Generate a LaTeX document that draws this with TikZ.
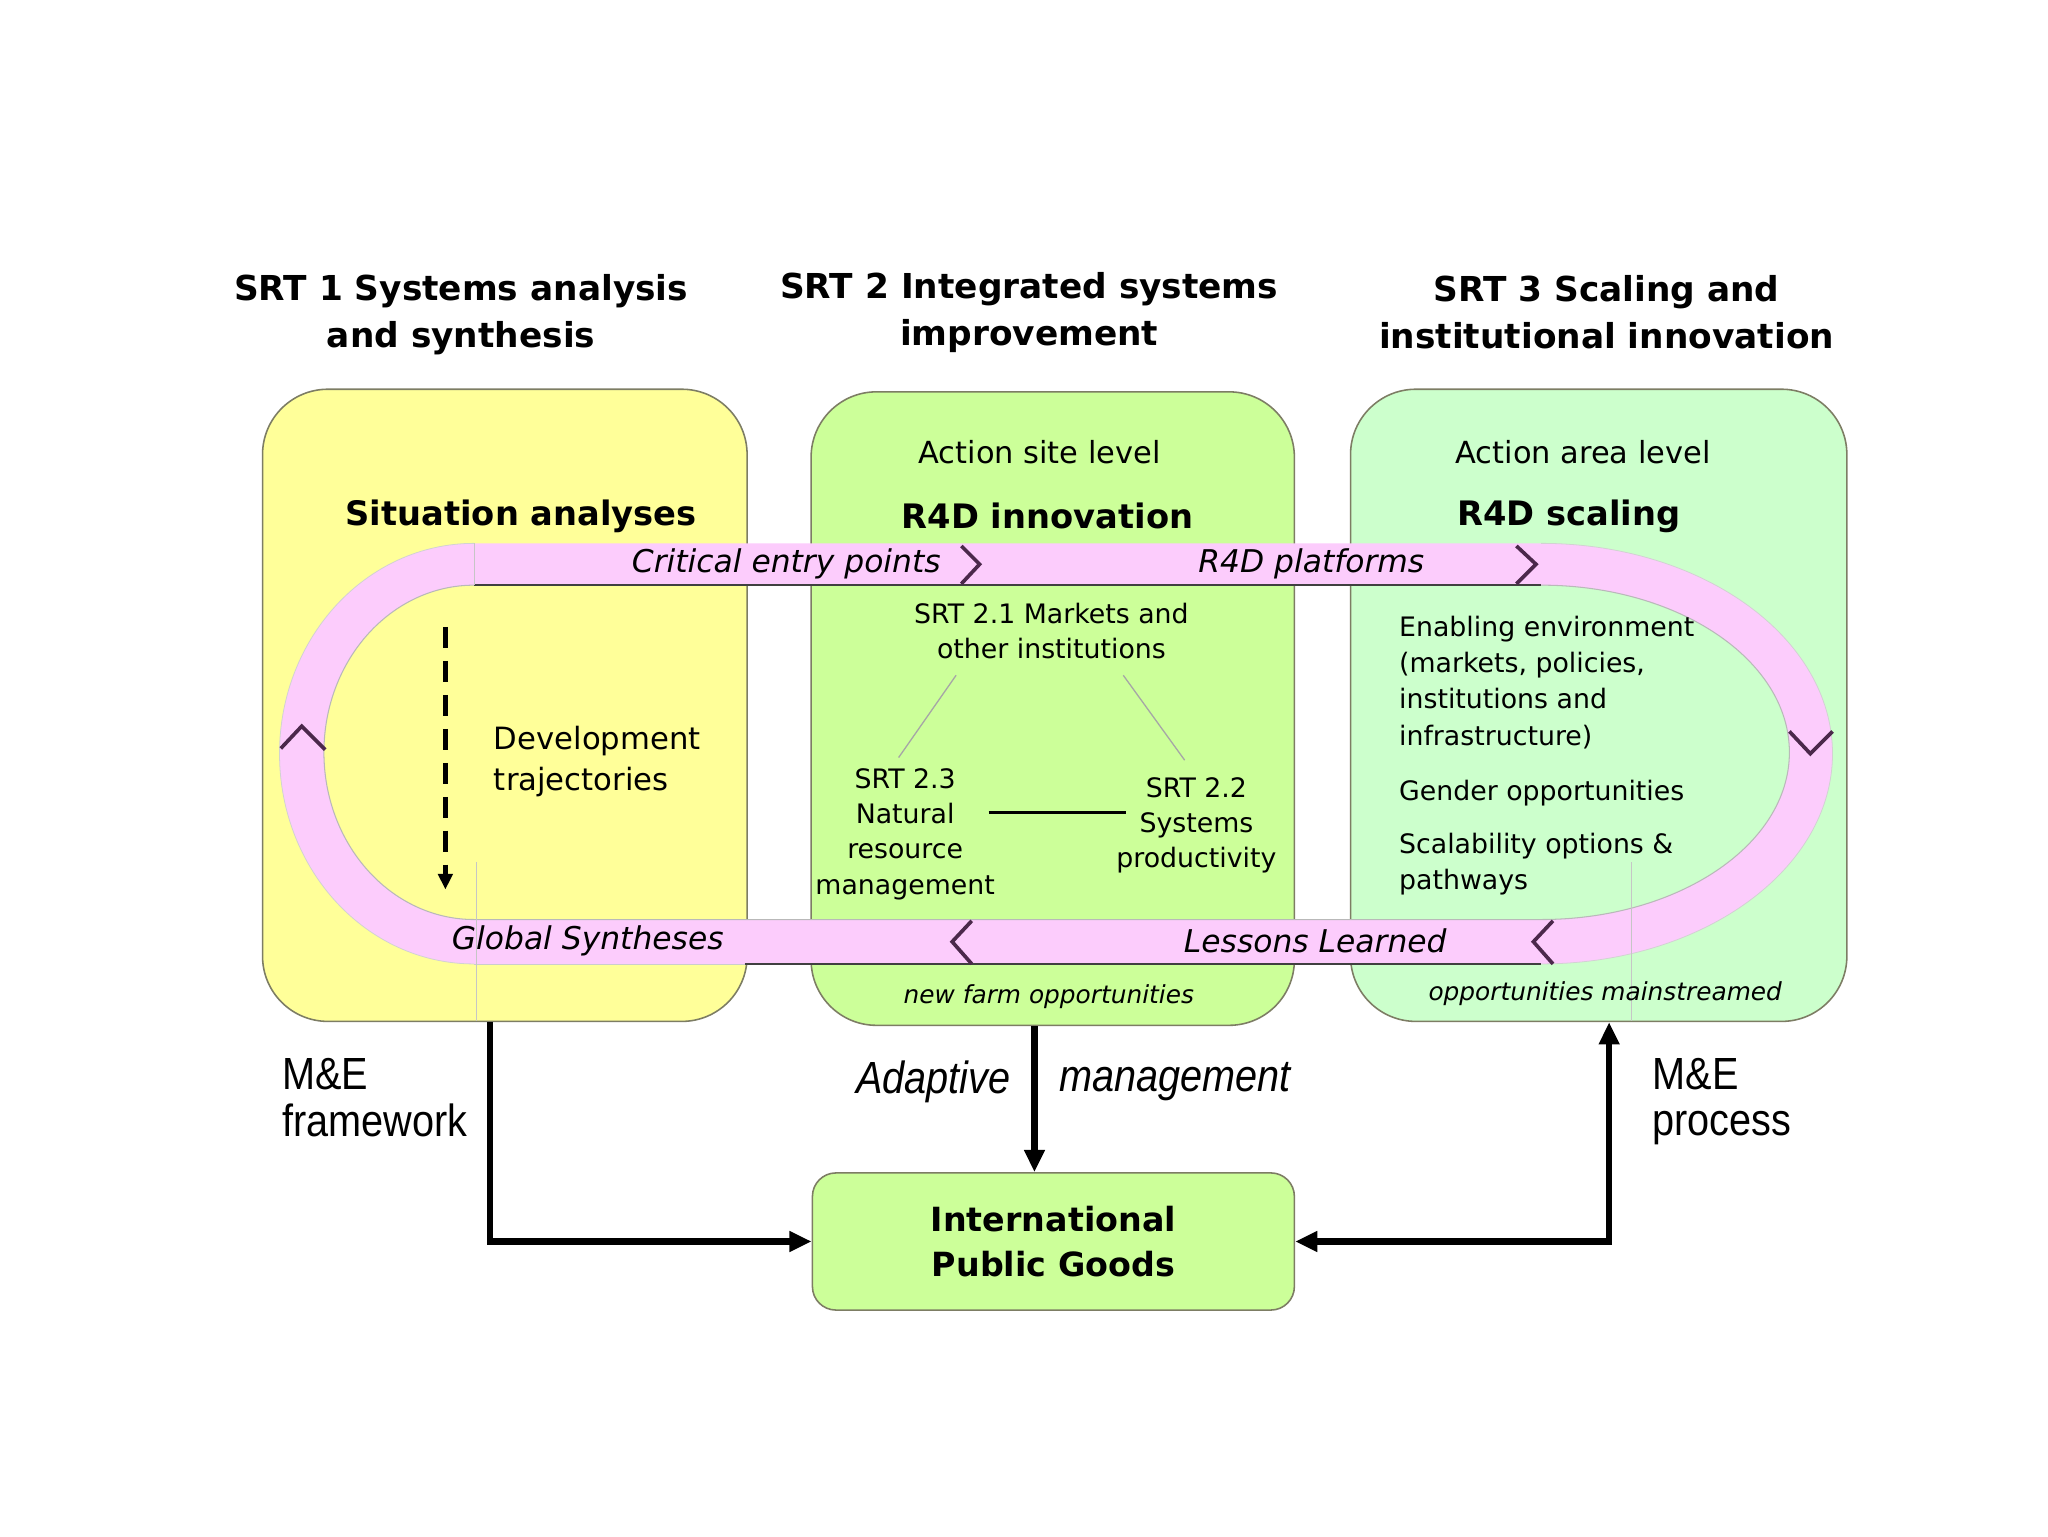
\documentclass[tikz,border=0pt]{standalone}
\usepackage{fontspec}
\setmainfont{DejaVu Sans}
\newfontfamily\lib{Liberation Sans}
\usetikzlibrary{arrows.meta}
\definecolor{ybox}{RGB}{255,255,153}
\definecolor{gbox}{RGB}{204,255,153}
\definecolor{mbox}{RGB}{204,255,204}
\definecolor{pinkband}{RGB}{252,204,252}
\definecolor{chev}{RGB}{75,40,75}
\definecolor{boxline}{RGB}{125,125,100}
\newcommand{\narrowlines}[1]{\scalebox{0.88}[1]{\begin{tabular}{@{}l@{}}#1\end{tabular}}}
\begin{document}
\begin{tikzpicture}[x=1pt,y=-1pt,
  panel/.style={draw=boxline, line width=1.2pt, rounded corners=50pt, inner sep=0pt},
  head/.style={font=\bfseries\fontsize{26.3}{36}\selectfont, align=center, inner sep=0pt},
  lvl/.style={font=\fontsize{23.3}{28}\selectfont, inner sep=0pt},
  ttl/.style={font=\bfseries\fontsize{25.8}{30}\selectfont, inner sep=0pt},
  bandtxt/.style={font=\itshape\fontsize{24}{28}\selectfont, inner sep=0pt},
  srtsmall/.style={font=\fontsize{20.5}{27}\selectfont, inner sep=0pt, align=center},
  boxlist/.style={font=\fontsize{20.5}{27.7}\selectfont, inner sep=0pt, align=left, anchor=west},
  smallit/.style={font=\itshape\fontsize{19}{24}\selectfont, inner sep=0pt},
  melabel/.style={font=\lib\fontsize{34.5}{35}\selectfont, inner sep=0pt, anchor=west},
  adapt/.style={font=\lib\itshape\fontsize{34.5}{35}\selectfont, inner sep=0pt},
  chevron/.style={draw=chev, line width=2.8pt, miter limit=10},
  bigarrow/.style={line width=4.8pt, -{Triangle[length=17pt,width=15pt]}},
  thinline/.style={gray!70, line width=1pt},
  seam/.style={gray!45, line width=0.7pt}
]
\useasboundingbox[fill=white] (0,0) rectangle (1568,1176);

% headings
\node[head] (h1) at (353,241) {SRT 1 Systems analysis\\and synthesis};
\node[head] (h2) at (788,239) {SRT 2 Integrated systems\\improvement};
\node[head] (h3) at (1230,239) {SRT 3 Scaling and\\institutional innovation};

% panels
\node[panel, fill=ybox, minimum width=371pt, minimum height=484pt] (box1) at (386.5,540) {};
\node[panel, fill=gbox, minimum width=370pt, minimum height=485pt] (box2) at (806,542.5) {};
\node[panel, fill=mbox, minimum width=380pt, minimum height=484pt] (box3) at (1224,540) {};
\node[panel, fill=gbox, rounded corners=18pt, minimum width=369pt, minimum height=105pt] (ipg) at (806.5,950.5) {};

% pink loop
\fill[pinkband, even odd rule]
  (363,416) -- (1180,416) arc[start angle=-90,end angle=90,x radius=223,y radius=161]
  -- (363,738) arc[start angle=90,end angle=270,x radius=149,y radius=161] -- cycle
  (363,448) -- (1180,448) arc[start angle=-90,end angle=90,x radius=190,y radius=128]
  -- (363,704) arc[start angle=90,end angle=270,x radius=115,y radius=128] -- cycle;
\draw[gray!55, line width=0.8pt]
  (1180,448) arc[start angle=-90,end angle=90,x radius=190,y radius=128] -- (363,704)
  arc[start angle=90,end angle=270,x radius=115,y radius=128];
\draw[gray!35, line width=0.6pt]
  (1180,416) arc[start angle=-90,end angle=90,x radius=223,y radius=161]
  (363,738) arc[start angle=90,end angle=270,x radius=149,y radius=161];
\draw[black!75, line width=1.6pt] (363,448) -- (1180,448);
\draw[black!75, line width=1.6pt] (570,738) -- (1180,738);
\draw[gray!40, line width=0.6pt] (363,738) -- (570,738);

% seams
\draw[seam] (363,416) -- (363,448);
\draw[seam] (365,660) -- (365,782);
\draw[seam] (1249,660) -- (1249,782);

% chevrons
\draw[chevron] (736,418) -- (750,432) -- (736,447);
\draw[chevron] (1161,418) -- (1176,432) -- (1161,447);
\draw[chevron] (744,705) -- (729,721) -- (744,738);
\draw[chevron] (1189,705) -- (1174,721) -- (1189,738);
\draw[chevron] (215,573) -- (231,556) -- (249,574);
\draw[chevron] (1370,560) -- (1386,577) -- (1403,560);

% band labels
\node[bandtxt] (cep) at (602,432) {Critical entry points};
\node[bandtxt] (r4dp) at (1004,432) {R4D platforms};
\node[bandtxt] (gs) at (450,720) {Global Syntheses};
\node[bandtxt] (ll) at (1007,720) {Lessons Learned};

% box 1
\node[ttl] (sa) at (399,395) {Situation analyses};
\node[align=left, anchor=west, inner sep=0pt, font=\fontsize{23.5}{32}\selectfont] (dev) at (378,583) {Development\\trajectories};
\coordinate (d1) at (341,480);
\coordinate (d2) at (341,681);
\draw[line width=4pt, dash pattern=on 16pt off 10pt, -{Triangle[length=12pt,width=11pt]}] (d1) -- (d2);

% box 2
\node[lvl] (asl) at (796,346) {Action site level};
\node[ttl] (r4di) at (802,395) {R4D innovation};
\node[srtsmall] (s21) at (805,483) {SRT 2.1 Markets and\\other institutions};
\node[srtsmall] (s23) at (693,638.5) {SRT 2.3\\Natural\\resource\\management};
\node[srtsmall] (s22) at (916,632) {SRT 2.2\\Systems\\productivity};
\coordinate (l1a) at (732,517);
\coordinate (l1b) at (688,580);
\coordinate (l2a) at (860,517);
\coordinate (l2b) at (907,582);
\coordinate (l3a) at (757,622);
\coordinate (l3b) at (862,622);
\draw[thinline] (l1a) -- (l1b);
\draw[thinline] (l2a) -- (l2b);
\draw[line width=2pt] (l3a) -- (l3b);
\node[smallit] (nfo) at (803,763) {new farm opportunities};

% box 3
\node[lvl] (aal) at (1212,346) {Action area level};
\node[ttl] (r4ds) at (1201,395) {R4D scaling};
\node[boxlist] (ee) at (1071,522.5) {Enabling environment\\(markets, policies,\\institutions and\\infrastructure)};
\node[boxlist] (go) at (1071,607) {Gender opportunities};
\node[boxlist] (so) at (1071,661.5) {Scalability options \&\\pathways};
\node[smallit] (om) at (1229,761) {opportunities mainstreamed};

% bottom
\node[font=\bfseries\fontsize{25.5}{35}\selectfont, align=center, inner sep=0pt] (ipgt) at (ipg) {International\\Public Goods};
\node[melabel] (mef) at (216,845) {\narrowlines{M\&E\\framework}};
\node[melabel] (mep) at (1265,845) {\narrowlines{M\&E\\process}};
\node[adapt] (ad) at (714.5,828) {\scalebox{0.88}[1]{Adaptive}};
\node[adapt] (mg) at (899.5,828) {\scalebox{0.88}[1]{management}};

\coordinate (lx) at (375,0);
\coordinate (mx) at (792,0);
\coordinate (rx) at (1232,0);
\draw[bigarrow] (box1.south -| lx) |- (ipg.west);
\draw[bigarrow] (box2.south -| mx) -- (ipg.north -| mx);
\draw[bigarrow, {Triangle[length=17pt,width=15pt]}-{Triangle[length=17pt,width=15pt]}] (ipg.east) -| (box3.south -| rx);
\end{tikzpicture}
\end{document}
